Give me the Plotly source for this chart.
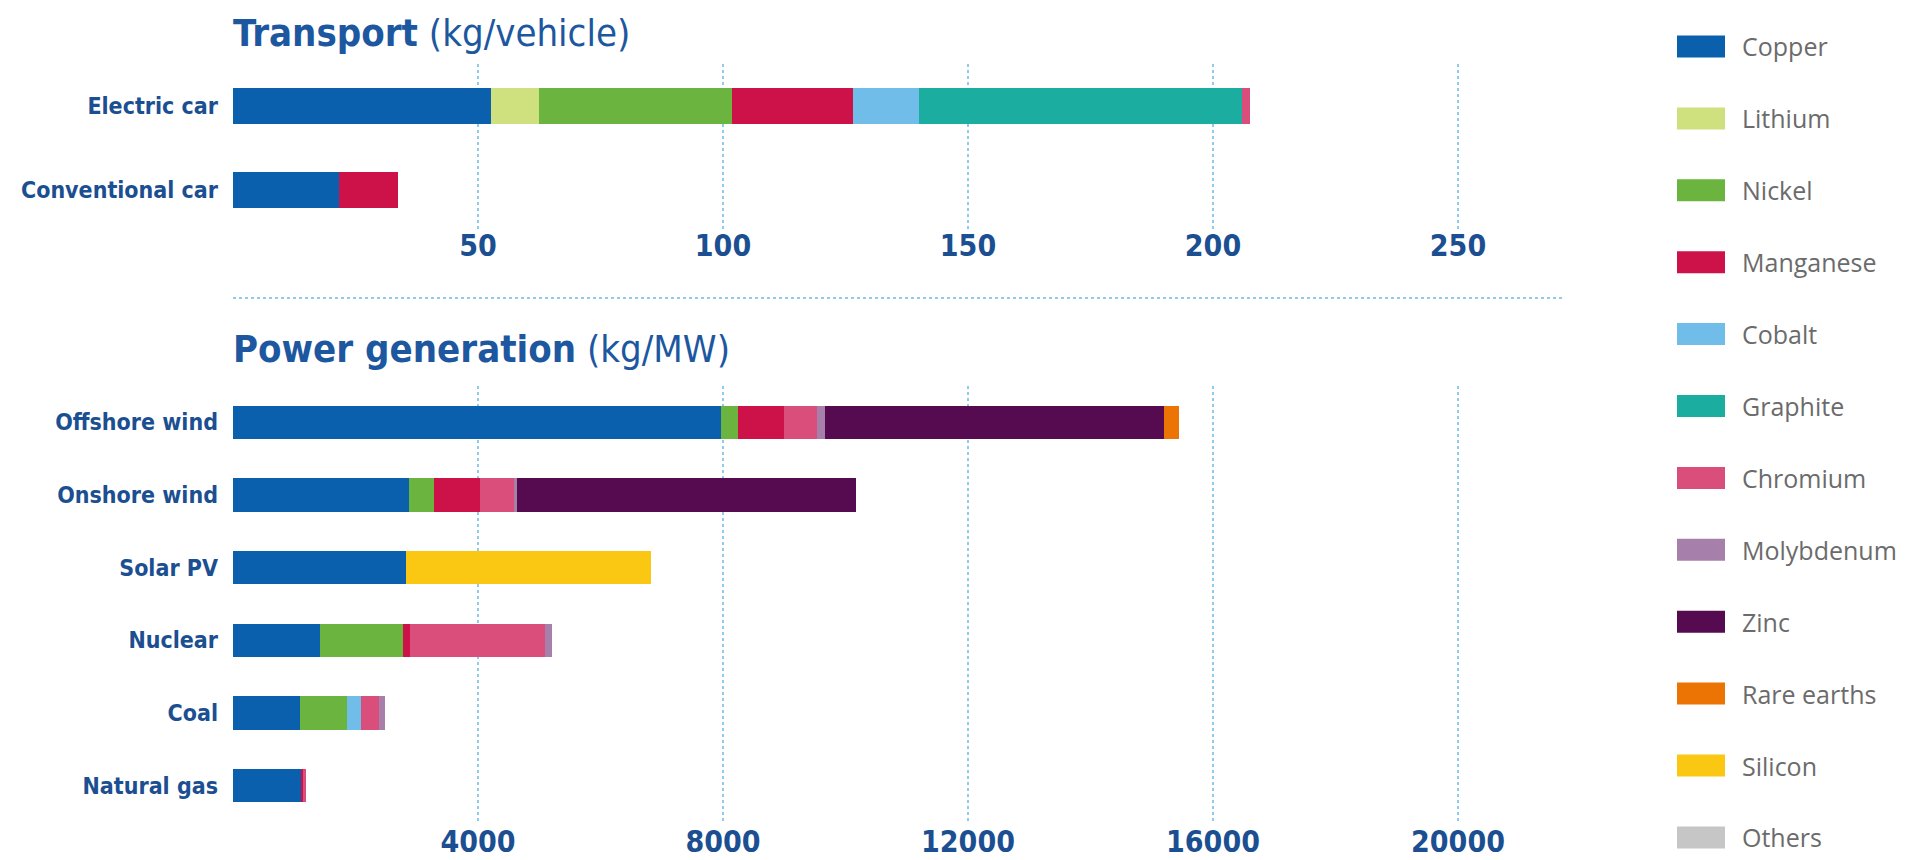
import plotly.graph_objects as go

# ---------------- data ----------------
minerals = ["Copper", "Lithium", "Nickel", "Manganese", "Cobalt", "Graphite",
            "Chromium", "Molybdenum", "Zinc", "Rare earths", "Silicon", "Others"]
colors = ["#0b60ae", "#cfe07f", "#6ab43f", "#cc1249", "#6fbde8", "#1bada0",
          "#d94e7b", "#a77fab", "#560a4f", "#ec7405", "#fac812", "#c6c6c6"]

transport_cats = ["Electric car", "Conventional car"]
transport_vals = {
    "Copper":     [52.7, 21.6],
    "Lithium":    [9.7, 0],
    "Nickel":     [39.4, 0],
    "Manganese":  [24.7, 12.1],
    "Cobalt":     [13.5, 0],
    "Graphite":   [65.9, 0],
    "Chromium":   [1.7, 0],
}

power_cats = ["Offshore wind", "Onshore wind", "Solar PV", "Nuclear", "Coal", "Natural gas"]
power_vals = {
    "Copper":      [7975, 2875, 2831, 1425, 1094, 1105],
    "Nickel":      [275, 405, 0, 1355, 767, 0],
    "Manganese":   [745, 755, 0, 102, 0, 40],
    "Cobalt":      [0, 0, 0, 0, 229, 0],
    "Chromium":    [545, 547, 0, 2210, 289, 47],
    "Molybdenum":  [122, 62, 0, 113, 98, 0],
    "Zinc":        [5538, 5527, 0, 0, 0, 0],
    "Rare earths": [245, 0, 0, 0, 0, 0],
    "Silicon":     [0, 0, 3987, 0, 0, 0],
}

transport_ticks = [0, 50, 100, 150, 200, 250]
transport_ticktext = ["", "50", "100", "150", "200", "250"]
power_ticks = [0, 4000, 8000, 12000, 16000, 20000]
power_ticktext = ["", "4000", "8000", "12000", "16000", "20000"]

# ---------------- layout helpers ----------------
W, H = 1929, 860
def fx(p):
    return p / W
def fy(p):
    return 1 - p / H

X0, X1 = 225, 1539
PX_PER_50 = 245.0
top_max = (X1 - X0) / PX_PER_50 * 50
bot_max = (X1 - X0) / PX_PER_50 * 4000

TOP_Y0, TOP_Y1 = 55.5, 223.5
BOT_Y0, BOT_Y1 = 378, 814

FONT = "Liberation Sans Narrow, DejaVu Sans Condensed, Roboto, Arial"
BLUE = "#1b4f91"
GRID = "#8fcbeb"

fig = go.Figure()
cmap = dict(zip(minerals, colors))

for m in minerals:
    if m in transport_vals:
        fig.add_trace(go.Bar(
            y=transport_cats, x=transport_vals[m], orientation="h", name=m,
            marker=dict(color=cmap[m], line=dict(width=0)), width=0.42,
            xaxis="x", yaxis="y", showlegend=False))
    if m in power_vals:
        fig.add_trace(go.Bar(
            y=power_cats, x=power_vals[m], orientation="h", name=m,
            marker=dict(color=cmap[m], line=dict(width=0)), width=0.46,
            xaxis="x2", yaxis="y2", showlegend=False))

axis_common = dict(showgrid=True, gridcolor=GRID, griddash="dot", gridwidth=2,
                   zeroline=False, showline=False, ticks="",
                   tickfont=dict(family=FONT, size=30, color=BLUE, weight=600))
yaxis_common = dict(showgrid=False, zeroline=False, showline=False, ticks="",
                    autorange="reversed", ticklabelstandoff=14,
                    tickfont=dict(family=FONT, size=23, color=BLUE, weight=700))

fig.update_layout(
    width=W, height=H,
    margin=dict(l=0, r=0, t=0, b=0),
    paper_bgcolor="white", plot_bgcolor="white",
    barmode="stack", bargap=0,
    xaxis=dict(domain=[fx(X0), fx(X1)], range=[0, top_max], anchor="free",
               position=fy(TOP_Y1 - 9),
               tickvals=transport_ticks, ticktext=transport_ticktext,
               ticklabelstandoff=2, **axis_common),
    yaxis=dict(domain=[fy(TOP_Y1), fy(TOP_Y0)], anchor="x", **yaxis_common),
    xaxis2=dict(domain=[fx(X0), fx(X1)], range=[0, bot_max], anchor="free",
                position=fy(BOT_Y1 - 3),
                tickvals=power_ticks, ticktext=power_ticktext,
                ticklabelstandoff=2, **axis_common),
    yaxis2=dict(domain=[fy(BOT_Y1), fy(BOT_Y0)], anchor="x2", **yaxis_common),
)

annotations = [
    dict(text="<b>Transport</b> (kg/vehicle)", x=fx(X0 - 2), y=fy(25),
         xref="paper", yref="paper", xanchor="left", yanchor="middle",
         showarrow=False, font=dict(family=FONT, size=38, color="#1c57a0")),
    dict(text="<b>Power generation</b> (kg/MW)", x=fx(X0 - 2), y=fy(341),
         xref="paper", yref="paper", xanchor="left", yanchor="middle",
         showarrow=False, font=dict(family=FONT, size=38, color="#1c57a0")),
]
shapes = [
    dict(type="line", xref="paper", yref="paper", x0=fx(X0), x1=fx(X1 + 17),
         y0=fy(290), y1=fy(290), line=dict(color=GRID, width=2, dash="dot")),
]

# legend (manual)
LEG_Y0, LEG_DY = 38.5, 71.9
for i, (m, c) in enumerate(zip(minerals, colors)):
    yc = LEG_Y0 + i * LEG_DY
    shapes.append(dict(type="rect", xref="paper", yref="paper",
                       x0=fx(1669), x1=fx(1717), y0=fy(yc - 11), y1=fy(yc + 11),
                       fillcolor=c, line=dict(width=0)))
    annotations.append(dict(text=m, x=fx(1732), y=fy(yc), xref="paper", yref="paper",
                            xanchor="left", yanchor="middle", showarrow=False,
                            font=dict(family="Open Sans, Noto Sans, Arial", size=25,
                                      color="#6b6b6b")))

fig.update_layout(annotations=annotations, shapes=shapes)
fig.write_html("out.html")
